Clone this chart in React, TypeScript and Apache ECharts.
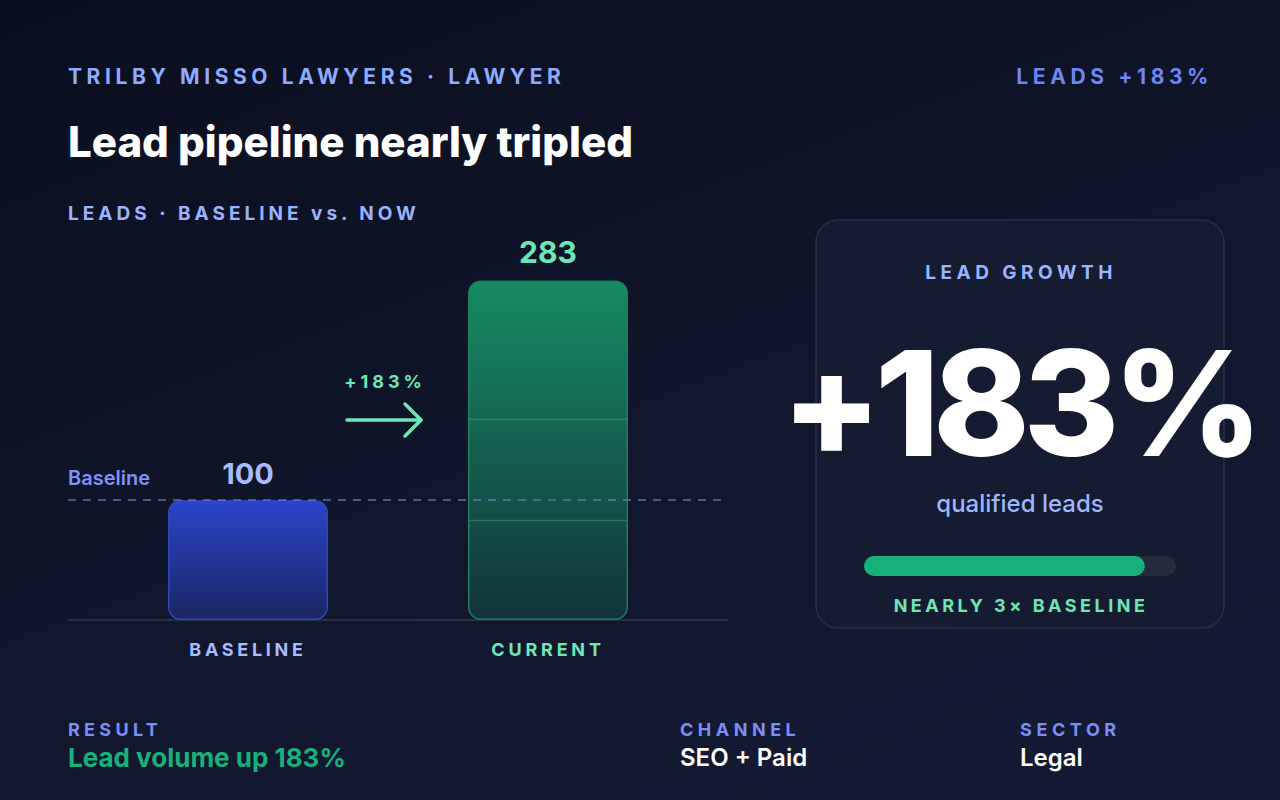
import React, { useEffect, useRef } from 'react';
import * as echarts from 'echarts';

const FONT = 'Inter, "Noto Sans", "DejaVu Sans", sans-serif';

// Lead counts, baseline period vs. now
const categories = ['BASELINE', 'CURRENT'];
const leads = [100, 283];
const baselineLeads = 100;
const growthPct = 183;
const leadAxisMax = 300;
// Faint guide rules drawn inside the current bar (lead values)
const currentGuideLevels = [83, 167];
// Share of the growth gauge that is filled
const gaugeFill = [0.9];

const clientLine = 'TRILBY MISSO LAWYERS · LAWYER';
const headline = 'Lead pipeline nearly tripled';
const chartCaption = 'LEADS · BASELINE vs. NOW';
const kpiTag = `LEADS +${growthPct}%`;
const cardTitle = 'LEAD GROWTH';
const cardUnit = 'qualified leads';
const cardNote = 'NEARLY 3× BASELINE';
const footerTitles = ['RESULT', 'CHANNEL', 'SECTOR'];
const footerValues = [`Lead volume up ${growthPct}%`, 'SEO + Paid', 'Legal'];

// Letter spacing (px) applied to the rendered SVG text nodes
const tracking: Record<string, number> = {
  [clientLine]: 4.6,
  [kpiTag]: 4.6,
  [chartCaption]: 4,
  [cardTitle]: 4.5,
  [cardNote]: 3.5,
  BASELINE: 3.7,
  CURRENT: 3.8,
  [`+${growthPct}%`]: 4,
  RESULT: 4.3,
  CHANNEL: 4.5,
  SECTOR: 4.6,
};
const bigNumberTracking = -6.5;

function txt(
  text: string,
  x: number,
  y: number,
  size: number,
  weight: number | string,
  fill: string,
  align: 'left' | 'center' | 'right' = 'left',
  z = 10
) {
  return {
    type: 'text',
    x,
    y,
    z,
    silent: true,
    style: {
      text,
      fill,
      fontFamily: FONT,
      fontSize: size,
      fontWeight: weight,
      align,
      verticalAlign: 'middle',
    },
  };
}

export default function App() {
  const ref = useRef<HTMLDivElement>(null);

  useEffect(() => {
    if (!ref.current) return;
    const chart = echarts.init(ref.current, null, { renderer: 'svg', width: 1280, height: 800 });

    const bigText = `+${growthPct}%`;

    const footerX = [68, 680, 1020];
    const footerGraphics: any[] = [];
    footerTitles.forEach((t, i) => {
      footerGraphics.push(txt(t, footerX[i], 729, 18, 700, '#7b8ef5'));
      footerGraphics.push(
        i === 0
          ? txt(footerValues[i], footerX[i], 757, 26, 700, '#19b07b')
          : txt(footerValues[i], footerX[i], 757, 24, 600, '#ffffff')
      );
    });

    const option: any = {
      animation: false,
      graphic: [
        {
          type: 'rect',
          z: -10,
          silent: true,
          shape: { x: 0, y: 0, width: 1280, height: 800 },
          style: {
            fill: {
              type: 'linear',
              x: 0,
              y: 0,
              x2: 0.6,
              y2: 1,
              colorStops: [
                { offset: 0, color: '#0a0f1f' },
                { offset: 1, color: '#141a33' },
              ],
            },
          },
        },
        {
          type: 'rect',
          z: 0,
          silent: true,
          shape: { x: 816, y: 220, width: 408, height: 408, r: 22 },
          style: { fill: '#151b30', stroke: '#262f4a', lineWidth: 1.5 },
        },
        txt(clientLine, 68, 76, 21, 700, '#8fabff'),
        txt(kpiTag, 1213, 76, 21, 700, '#6e86f2', 'right'),
        txt(headline, 68, 141, 42, 800, '#ffffff'),
        txt(chartCaption, 68, 213, 19, 700, '#9bb3ff'),
        // growth annotation between the bars
        txt(`+${growthPct}%`, 385, 381, 18, 700, '#6ee7b7', 'center'),
        {
          type: 'polyline',
          z: 10,
          silent: true,
          shape: { points: [[347, 420], [421, 420]] },
          style: { stroke: '#6ee7b7', lineWidth: 3.5, lineCap: 'round' },
        },
        {
          type: 'polyline',
          z: 10,
          silent: true,
          shape: { points: [[405, 404], [421, 420], [405, 436]] },
          style: { stroke: '#6ee7b7', lineWidth: 3.5, lineCap: 'round', lineJoin: 'round', fill: 'none' },
        },
        // KPI card
        txt(cardTitle, 1021, 272, 19, 700, '#9ab4ff', 'center'),
        {
          type: 'text',
          x: 1019,
          y: 403,
          z: 10,
          silent: true,
          style: {
            text: bigText,
            fill: '#ffffff',
            fontFamily: FONT,
            fontSize: 146,
            fontWeight: 800,
            align: 'center',
            verticalAlign: 'middle',
          },
        },
        txt(cardUnit, 1020, 503, 24, 500, '#9cb6ff', 'center'),
        txt(cardNote, 1021, 605, 18, 700, '#6ee7b7', 'center'),
        ...footerGraphics,
      ],
      grid: [
        { left: 98, top: 260, width: 600, height: 360 },
        { left: 68, top: 260, width: 660, height: 360 },
        { left: 864, top: 556, width: 312, height: 20 },
      ],
      xAxis: [
        {
          type: 'category',
          gridIndex: 0,
          data: categories,
          axisLine: { show: false },
          axisTick: { show: false },
          axisLabel: {
            margin: 20,
            formatter: (v: string) => `{${v === 'CURRENT' ? 'cur' : 'base'}|${v}}`,
            rich: {
              base: { color: '#a8bbff', fontFamily: FONT, fontSize: 18, fontWeight: 700 },
              cur: { color: '#6ee7b7', fontFamily: FONT, fontSize: 18, fontWeight: 700 },
            },
          },
        },
        {
          type: 'value',
          gridIndex: 1,
          min: 0,
          max: 1,
          axisLine: { show: true, onZero: false, lineStyle: { color: '#262e48', width: 2 } },
          axisTick: { show: false },
          axisLabel: { show: false },
          splitLine: { show: false },
        },
        { type: 'value', gridIndex: 2, min: 0, max: 1, show: false },
      ],
      yAxis: [
        { type: 'value', gridIndex: 0, min: 0, max: leadAxisMax, show: false },
        { type: 'value', gridIndex: 1, min: 0, max: leadAxisMax, show: false },
        { type: 'category', gridIndex: 2, data: ['growth'], show: false },
      ],
      series: [
        {
          type: 'bar',
          xAxisIndex: 0,
          yAxisIndex: 0,
          barWidth: 160,
          silent: true,
          z: 3,
          label: {
            show: true,
            position: 'top',
            distance: 12,
            fontFamily: FONT,
            fontSize: 29,
            fontWeight: 700,
          },
          data: leads.map((v, i) => ({
            value: v,
            label:
              i === 0
                ? { color: '#a9bcff' }
                : { color: '#6ee7b7', fontSize: 30, distance: 13 },
            itemStyle:
              i === 0
                ? {
                    color: new echarts.graphic.LinearGradient(0, 0, 0, 1, [
                      { offset: 0, color: '#2a45cc' },
                      { offset: 1, color: '#1b2562' },
                    ]),
                    borderColor: '#2e47b8',
                    borderWidth: 1.5,
                    borderRadius: 12,
                  }
                : {
                    color: new echarts.graphic.LinearGradient(0, 0, 0, 1, [
                      { offset: 0, color: '#168b63' },
                      { offset: 1, color: '#12333a' },
                    ]),
                    borderColor: '#1f7d5e',
                    borderWidth: 1.5,
                    borderRadius: 12,
                  },
          })),
        },
        {
          type: 'custom',
          xAxisIndex: 0,
          yAxisIndex: 0,
          silent: true,
          z: 4,
          data: currentGuideLevels.map((v) => [1, v]),
          renderItem: (_params: any, api: any) => {
            const p = api.coord([api.value(0), api.value(1)]);
            return {
              type: 'line',
              shape: { x1: p[0] - 79, y1: p[1], x2: p[0] + 79, y2: p[1] },
              style: { stroke: 'rgba(134, 239, 172, 0.22)', lineWidth: 1.5 },
            };
          },
        },
        {
          type: 'line',
          xAxisIndex: 1,
          yAxisIndex: 1,
          data: [],
          silent: true,
          z: 5,
          markLine: {
            silent: true,
            symbol: ['none', 'none'],
            lineStyle: { color: 'rgba(110, 126, 205, 0.62)', width: 2, type: [8, 7] },
            label: {
              show: true,
              position: 'insideStartTop',
              distance: [0, 12],
              formatter: 'Baseline',
              color: '#7f93f7',
              fontFamily: FONT,
              fontSize: 20,
              fontWeight: 600,
            },
            data: [{ yAxis: baselineLeads }],
          },
        },
        {
          type: 'bar',
          xAxisIndex: 2,
          yAxisIndex: 2,
          data: gaugeFill,
          barWidth: 20,
          silent: true,
          z: 3,
          showBackground: true,
          backgroundStyle: { color: '#252b3d', borderRadius: 10 },
          itemStyle: { color: '#17b27b', borderRadius: 10 },
        },
      ],
    };

    chart.setOption(option);

    const applyTracking = () => {
      const root = ref.current;
      if (!root) return;
      root.querySelectorAll('text').forEach((el) => {
        const t = (el.textContent || '').trim();
        if (t in tracking) {
          el.setAttribute('letter-spacing', `${tracking[t]}px`);
        }
        const st = (el.getAttribute('style') || '') + (el.getAttribute('font-size') || '');
        if (t === bigText && /146px|146/.test(st)) {
          el.setAttribute('letter-spacing', `${bigNumberTracking}px`);
        }
      });
    };
    applyTracking();
    chart.on('finished', applyTracking);
    const raf = requestAnimationFrame(applyTracking);

    return () => {
      cancelAnimationFrame(raf);
      chart.dispose();
    };
  }, []);

  return (
    <div
      ref={ref}
      style={{ position: 'fixed', left: 0, top: 0, width: 1280, height: 800, background: '#0d1224' }}
    />
  );
}
